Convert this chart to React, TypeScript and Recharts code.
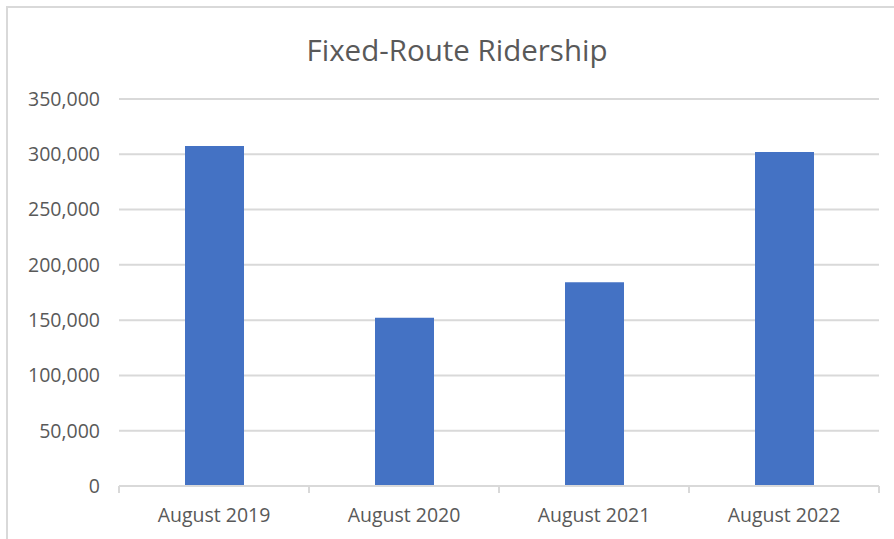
import { BarChart, Bar, XAxis, YAxis, CartesianGrid } from 'recharts'

const months = ['August 2019', 'August 2020', 'August 2021', 'August 2022']
const ridership = [307400, 152200, 184200, 302000]
const yTicks = [0, 50000, 100000, 150000, 200000, 250000, 300000, 350000]

const WIDTH = 894
const HEIGHT = 539
const PLOT_LEFT = 119
const PLOT_RIGHT = 879
const FONT = '"Open Sans", sans-serif'
const TEXT = '#595959'
const GRID = '#d9d9d9'

const data = months.map((m, i) => ({ month: m, value: ridership[i] }))

// category band width, used to put the axis tick marks between categories
const band = (PLOT_RIGHT - PLOT_LEFT) / months.length

function MonthTick(props: any) {
  const { x, y, payload, index } = props
  const isLast = index === months.length - 1
  return (
    <g>
      <line x1={x - band / 2} x2={x - band / 2} y1={y} y2={y + 7} stroke={GRID} strokeWidth={2} />
      {isLast && <line x1={x + band / 2} x2={x + band / 2} y1={y} y2={y + 7} stroke={GRID} strokeWidth={2} />}
      <text x={x} y={y + 36} textAnchor="middle" fill={TEXT} fontSize={19.5} fontFamily={FONT}>
        {payload.value}
      </text>
    </g>
  )
}

export default function App() {
  return (
    <div style={{ position: 'absolute', left: 0, top: 0, width: WIDTH, height: HEIGHT, overflow: 'hidden', background: '#fff' }}>
      {/* chart frame, only top and left edges are in view */}
      <div
        style={{
          position: 'absolute',
          left: 6,
          top: 6,
          width: WIDTH + 20,
          height: HEIGHT + 20,
          borderLeft: `2px solid ${GRID}`,
          borderTop: `2px solid ${GRID}`
        }}
      />
      <svg width={WIDTH} height={HEIGHT} style={{ position: 'absolute', left: 0, top: 0 }}>
        <text x={457} y={61} textAnchor="middle" fill={TEXT} fontSize={29.5} fontFamily={FONT}>
          Fixed-Route Ridership
        </text>
      </svg>
      <div style={{ position: 'absolute', left: 0, top: 0 }}>
        <BarChart
          width={WIDTH}
          height={HEIGHT}
          data={data}
          margin={{ top: 99, right: WIDTH - PLOT_RIGHT, left: 0, bottom: 0 }}
        >
          <CartesianGrid vertical={false} stroke={GRID} strokeWidth={2} />
          <XAxis
            dataKey="month"
            height={HEIGHT - 486}
            axisLine={{ stroke: GRID, strokeWidth: 2 }}
            tickLine={false}
            tickSize={0}
            tickMargin={0}
            interval={0}
            tick={<MonthTick />}
          />
          <YAxis
            width={PLOT_LEFT}
            domain={[0, 350000]}
            ticks={yTicks}
            interval={0}
            axisLine={false}
            tickLine={false}
            tickSize={0}
            tickMargin={19}
            tickFormatter={(v: number) => v.toLocaleString('en-US')}
            tick={{ fill: TEXT, fontSize: 19.5, fontFamily: FONT }}
          />
          <Bar dataKey="value" fill="#4472C4" barSize={59} isAnimationActive={false} />
        </BarChart>
      </div>
    </div>
  )
}
